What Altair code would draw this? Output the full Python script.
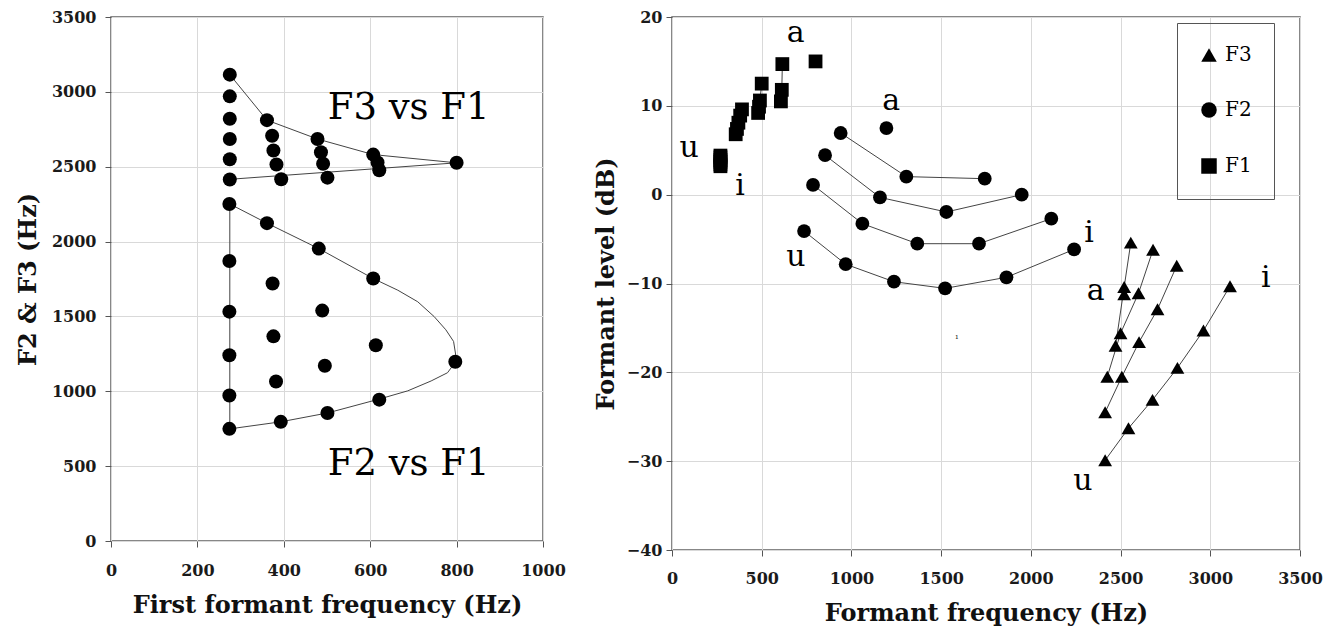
import altair as alt
import pandas as pd

# ---------------- Left panel data (Hz) ----------------
L_F1_FOR_F3 = [275, 275, 275, 275, 275, 275, 361, 373, 376, 383, 394, 478, 486, 491, 501, 607, 617, 621, 800]
L_F3 = [3115, 2970, 2820, 2685, 2550, 2415, 2811, 2707, 2608, 2515, 2416, 2685, 2597, 2520, 2427, 2581, 2528, 2476, 2526]
L_F1_FOR_F2 = [274, 274, 274, 274, 274, 274, 361, 374, 376, 382, 393, 481, 489, 495, 501, 607, 613, 621, 797]
L_F2 = [2251, 1870, 1532, 1241, 972, 749, 2123, 1720, 1367, 1065, 796, 1953, 1539, 1171, 855, 1753, 1307, 944, 1197]

F3_UPPER_X = [275, 361, 478, 607, 800]
F3_UPPER_Y = [3115, 2811, 2685, 2581, 2526]
F3_LOWER_X = [275, 800]
F3_LOWER_Y = [2416, 2526]
F2_LOOP_X = [275, 275, 361, 481, 607, 664, 710, 748, 775, 793, 800, 779, 741, 687, 621, 501, 393, 275]
F2_LOOP_Y = [749, 2251, 2123, 1953, 1753, 1675, 1598, 1499, 1411, 1333, 1206, 1124, 1069, 1003, 948, 855, 796, 749]

LEFT_TEXT = ["F3 vs F1", "F2 vs F1"]
LEFT_TEXT_X = [689, 689]
LEFT_TEXT_Y = [2821, 441]

# ---------------- Right panel data (Hz, dB) ----------------
GROUP = [1, 1, 1, 1, 1, 1, 2, 2, 2, 2, 2, 3, 3, 3, 3, 4, 4, 4, 5]
R_F1_HZ = [270, 270, 270, 270, 270, 270, 355, 362, 370, 380, 390, 480, 485, 490, 500, 607, 612, 615, 800]
R_F1_DB = [4.4, 4.2, 3.9, 3.7, 3.4, 3.2, 6.8, 7.4, 8.1, 8.9, 9.6, 9.2, 9.9, 10.6, 12.5, 10.5, 11.8, 14.7, 15.0]
R_F2_HZ = [736, 968, 1237, 1522, 1864, 2241, 786, 1061, 1367, 1711, 2114, 853, 1159, 1529, 1949, 940, 1306, 1743, 1195]
R_F2_DB = [-4.1, -7.83, -9.8, -10.55, -9.3, -6.16, 1.1, -3.26, -5.52, -5.52, -2.7, 4.44, -0.31, -1.95, 0.0, 6.94, 2.03, 1.8, 7.5]
R_F3_HZ = [2414, 2544, 2678, 2817, 2962, 3110, 2414, 2507, 2603, 2706, 2813, 2426, 2500, 2600, 2681, 2472, 2520, 2557, 2520]
R_F3_DB = [-29.9, -26.3, -23.1, -19.5, -15.3, -10.3, -24.5, -20.5, -16.6, -12.9, -8.0, -20.5, -15.6, -11.1, -6.2, -17.0, -10.4, -5.4, -11.2]

VOWEL_TXT = ["a", "a", "u", "i", "u", "i", "a", "i", "u"]
VOWEL_HZ = [690, 1222, 95, 379, 690, 2324, 2362, 3309, 2290]
VOWEL_DB = [17.2, 9.54, 4.19, 0.0, -8.0, -5.35, -11.9, -10.4, -33.3]

ARTIFACT_TXT = ["ı"]
ARTIFACT_HZ = [1587]
ARTIFACT_DB = [-16.0]

LEFT_X_TICKS = [0, 200, 400, 600, 800, 1000]
LEFT_Y_TICKS = [0, 500, 1000, 1500, 2000, 2500, 3000, 3500]
RIGHT_X_TICKS = [0, 500, 1000, 1500, 2000, 2500, 3000, 3500]
RIGHT_Y_TICKS = [-40, -30, -20, -10, 0, 10, 20]

SERIF = "DejaVu Serif"

# ---------------- Build tables ----------------
left_pts = pd.DataFrame({"x": L_F1_FOR_F3 + L_F1_FOR_F2, "y": L_F3 + L_F2})

rows = []
for pid, xs, ys in [("f3u", F3_UPPER_X, F3_UPPER_Y), ("f3l", F3_LOWER_X, F3_LOWER_Y), ("f2", F2_LOOP_X, F2_LOOP_Y)]:
    for i, (a, b) in enumerate(zip(xs, ys)):
        rows.append({"path": pid, "o": i, "x": a, "y": b})
left_lines = pd.DataFrame(rows)
left_text = pd.DataFrame({"x": LEFT_TEXT_X, "y": LEFT_TEXT_Y, "t": LEFT_TEXT})

rrows = []
for name, hz, db in [("F1", R_F1_HZ, R_F1_DB), ("F2", R_F2_HZ, R_F2_DB), ("F3", R_F3_HZ, R_F3_DB)]:
    for i, (a, b, g) in enumerate(zip(hz, db, GROUP)):
        rrows.append({"formant": name, "series": f"{name}-{g}", "o": i, "x": a, "y": b})
right_pts = pd.DataFrame(rrows)
vowels = pd.DataFrame({"x": VOWEL_HZ, "y": VOWEL_DB, "t": VOWEL_TXT})
artifact = pd.DataFrame({"x": ARTIFACT_HZ, "y": ARTIFACT_DB, "t": ARTIFACT_TXT})

# ---------------- Left chart ----------------
lx = alt.X("x:Q", scale=alt.Scale(domain=[0, 1000], nice=False),
           axis=alt.Axis(values=LEFT_X_TICKS, format="d", title="First formant frequency (Hz)",
                         labelPadding=15, titlePadding=15, labelFlush=False))
ly = alt.Y("y:Q", scale=alt.Scale(domain=[0, 3500], nice=False),
           axis=alt.Axis(values=LEFT_Y_TICKS, format="d", title="F2 & F3 (Hz)",
                         labelPadding=9, titlePadding=11))

l_lines = alt.Chart(left_lines).mark_line(color="#444", strokeWidth=1).encode(
    x=lx, y=ly, detail="path:N", order="o:Q")
l_pts = alt.Chart(left_pts).mark_point(filled=True, shape="circle", size=196, color="black", opacity=1).encode(x=lx, y=ly)
l_txt = alt.Chart(left_text).mark_text(font=SERIF, fontSize=37, color="black", baseline="alphabetic", align="center").encode(
    x=lx, y=ly, text="t:N")
left = alt.layer(l_lines, l_pts, l_txt).properties(width=432, height=524)

# ---------------- Right chart ----------------
rx = alt.X("x:Q", scale=alt.Scale(domain=[0, 3500], nice=False),
           axis=alt.Axis(values=RIGHT_X_TICKS, format="d", title="Formant frequency (Hz)",
                         labelPadding=14, titlePadding=15, labelFlush=False))
ry = alt.Y("y:Q", scale=alt.Scale(domain=[-40, 20], nice=False),
           axis=alt.Axis(values=RIGHT_Y_TICKS, format="d", title="Formant level (dB)",
                         labelPadding=4, titlePadding=8))

r_lines = alt.Chart(right_pts).mark_line(color="#444", strokeWidth=1).encode(
    x=rx, y=ry, detail="series:N", order="o:Q")
r_pts = alt.Chart(right_pts).mark_point(filled=True, size=190, color="black", opacity=1).encode(
    x=rx, y=ry,
    shape=alt.Shape("formant:N",
                    scale=alt.Scale(domain=["F3", "F2", "F1"], range=["triangle-up", "circle", "square"]),
                    legend=alt.Legend(title=None, orient="none", legendX=1066, legendY=6, direction="vertical",
                                      strokeColor="#555", padding=22, rowPadding=34, symbolSize=240,
                                      symbolFillColor="black", symbolStrokeColor="black",
                                      labelFont=SERIF, labelFontSize=20, labelColor="black", labelOffset=6)))
r_vow = alt.Chart(vowels).mark_text(font=SERIF, fontSize=30, color="black", baseline="alphabetic", align="center").encode(
    x=rx, y=ry, text="t:N")
r_art = alt.Chart(artifact).mark_text(font=SERIF, fontSize=8, color="#333").encode(x=rx, y=ry, text="t:N")
right = alt.layer(r_lines, r_pts, r_vow, r_art).properties(width=628, height=533)

chart = (
    alt.hconcat(left, right, spacing=26)
    .properties(padding={"left": 7, "top": 0, "right": 0, "bottom": 0})
    .configure_view(stroke="#606060", strokeWidth=1.5)
    .configure_axis(
        labelFont=SERIF, labelFontWeight="bold", labelFontSize=16, labelColor="#1a1a1a",
        titleFont=SERIF, titleFontWeight="bold", titleFontSize=24, titleColor="#111",
        gridColor="#d9d9d9", gridWidth=1, domain=False,
        tickColor="#555", tickSize=6, tickWidth=1,
    )
)

chart.save("out.html", embed_options={"renderer": "svg", "actions": False})
